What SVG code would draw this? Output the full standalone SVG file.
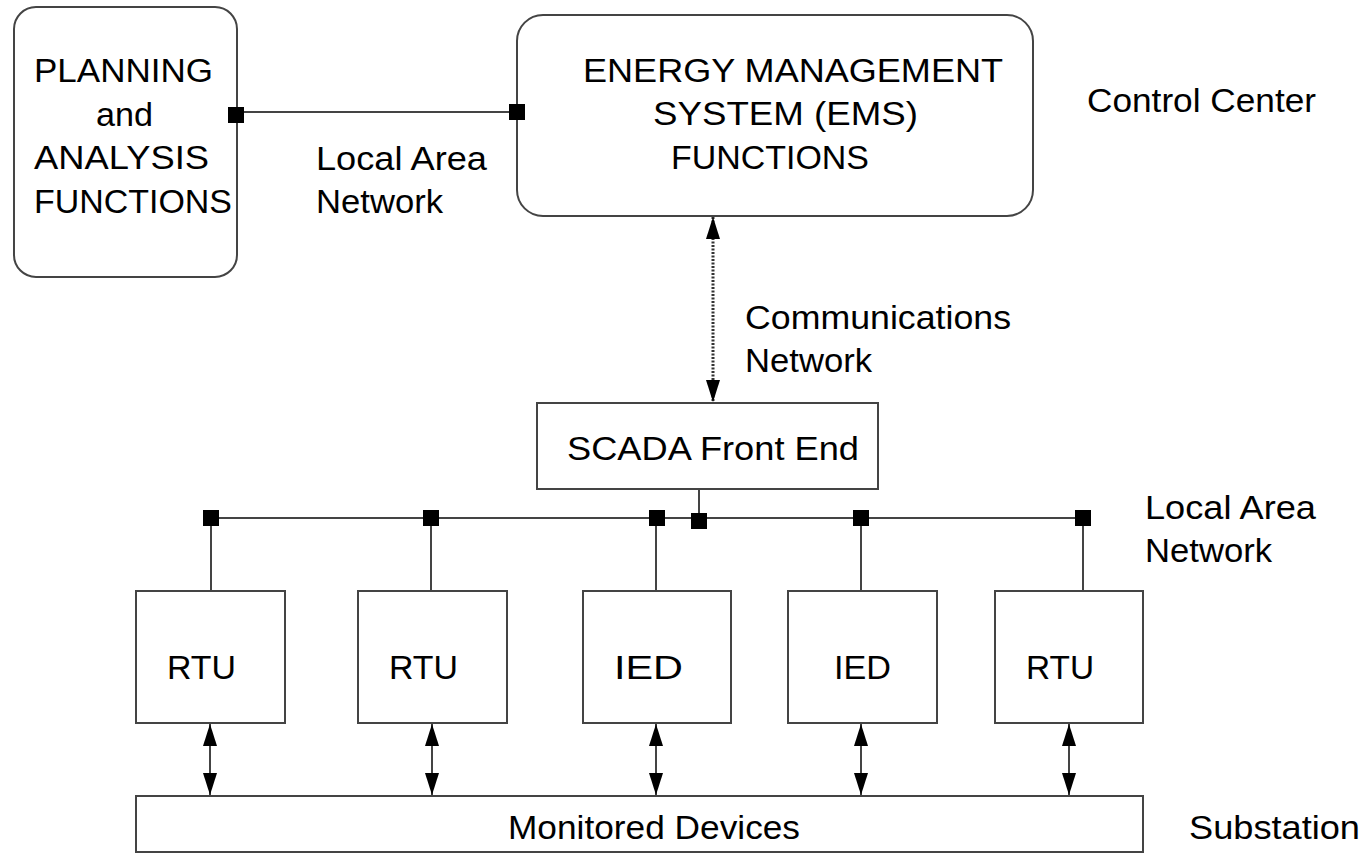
<svg xmlns="http://www.w3.org/2000/svg" width="1364" height="853" viewBox="0 0 1364 853">
<defs>
<marker id="ah" viewBox="0 0 22 14" refX="22" refY="7" markerWidth="22" markerHeight="14" markerUnits="userSpaceOnUse" orient="auto-start-reverse">
<path d="M0,0 L22,7 L0,14 z" fill="#000"/>
</marker>
<style>
.box{fill:#fff;stroke:#444;stroke-width:2}
.ln{fill:none;stroke:#444;stroke-width:2}
.sq{fill:#000}
text{font-family:"Liberation Sans",Arial,sans-serif;font-size:33px;fill:#000}
</style>
</defs>
<rect width="1364" height="853" fill="#fff"/>
<g id="planning">
<rect class="box" x="14" y="7" width="223" height="270" rx="22"/>
<text x="34" y="82" textLength="179" lengthAdjust="spacingAndGlyphs">PLANNING</text>
<text x="96" y="126" textLength="57" lengthAdjust="spacingAndGlyphs">and</text>
<text x="34" y="169" textLength="175" lengthAdjust="spacingAndGlyphs">ANALYSIS</text>
<text x="34" y="213" textLength="198" lengthAdjust="spacingAndGlyphs">FUNCTIONS</text>
</g>
<g id="lan-label-top">
<text x="316" y="170" textLength="171" lengthAdjust="spacingAndGlyphs">Local Area</text>
<text x="316" y="213" textLength="127" lengthAdjust="spacingAndGlyphs">Network</text>
</g>
<g id="ems">
<rect class="box" x="517" y="15" width="516" height="201" rx="26"/>
<text x="583" y="82" textLength="420" lengthAdjust="spacingAndGlyphs">ENERGY MANAGEMENT</text>
<text x="653" y="125" textLength="265" lengthAdjust="spacingAndGlyphs">SYSTEM (EMS)</text>
<text x="671" y="169" textLength="198" lengthAdjust="spacingAndGlyphs">FUNCTIONS</text>
</g>
<g id="control-center">
<text x="1087" y="112" textLength="229" lengthAdjust="spacingAndGlyphs">Control Center</text>
</g>
<g id="comm-label">
<text x="745" y="329" textLength="266" lengthAdjust="spacingAndGlyphs">Communications</text>
<text x="745" y="372" textLength="127" lengthAdjust="spacingAndGlyphs">Network</text>
</g>
<g id="scada">
<rect class="box" x="537" y="403" width="341" height="86"/>
<text x="567" y="460" textLength="292" lengthAdjust="spacingAndGlyphs">SCADA Front End</text>
</g>
<g id="lan-label-bottom">
<text x="1145" y="519" textLength="171" lengthAdjust="spacingAndGlyphs">Local Area</text>
<text x="1145" y="562" textLength="127" lengthAdjust="spacingAndGlyphs">Network</text>
</g>
<g id="rtu1">
<rect class="box" x="136" y="591" width="149" height="132"/>
<text x="167" y="679" textLength="69" lengthAdjust="spacingAndGlyphs">RTU</text>
</g>
<g id="rtu2">
<rect class="box" x="358" y="591" width="149" height="132"/>
<text x="389" y="679" textLength="69" lengthAdjust="spacingAndGlyphs">RTU</text>
</g>
<g id="ied1">
<rect class="box" x="583" y="591" width="148" height="132"/>
<text x="614" y="679" textLength="69" lengthAdjust="spacingAndGlyphs">IED</text>
</g>
<g id="ied2">
<rect class="box" x="788" y="591" width="149" height="132"/>
<text x="834" y="679" textLength="57" lengthAdjust="spacingAndGlyphs">IED</text>
</g>
<g id="rtu3">
<rect class="box" x="995" y="591" width="148" height="132"/>
<text x="1026" y="679" textLength="68" lengthAdjust="spacingAndGlyphs">RTU</text>
</g>
<g id="monitored">
<rect class="box" x="136" y="796" width="1007" height="56"/>
<text x="508" y="839" textLength="292" lengthAdjust="spacingAndGlyphs">Monitored Devices</text>
</g>
<g id="substation">
<text x="1189" y="839" textLength="171" lengthAdjust="spacingAndGlyphs">Substation</text>
</g>
<g id="connectors">
<line class="ln" x1="236" y1="112" x2="517" y2="112"/>
<line x1="713" y1="217" x2="713" y2="402" stroke="#333" stroke-width="3" stroke-dasharray="2,1.5" marker-start="url(#ah)" marker-end="url(#ah)"/>
<line class="ln" x1="211" y1="518" x2="1083" y2="518"/>
<line class="ln" x1="699" y1="489" x2="699" y2="521"/>
<line class="ln" x1="211" y1="518" x2="211" y2="591"/>
<line class="ln" x1="431" y1="518" x2="431" y2="591"/>
<line class="ln" x1="656" y1="518" x2="656" y2="591"/>
<line class="ln" x1="861" y1="518" x2="861" y2="591"/>
<line class="ln" x1="1083" y1="518" x2="1083" y2="591"/>
<line class="ln" x1="210" y1="724" x2="210" y2="795" marker-start="url(#ah)" marker-end="url(#ah)"/>
<line class="ln" x1="432" y1="724" x2="432" y2="795" marker-start="url(#ah)" marker-end="url(#ah)"/>
<line class="ln" x1="656" y1="724" x2="656" y2="795" marker-start="url(#ah)" marker-end="url(#ah)"/>
<line class="ln" x1="861" y1="724" x2="861" y2="795" marker-start="url(#ah)" marker-end="url(#ah)"/>
<line class="ln" x1="1069" y1="724" x2="1069" y2="795" marker-start="url(#ah)" marker-end="url(#ah)"/>
<rect class="sq" x="228" y="107" width="16" height="16"/>
<rect class="sq" x="509" y="104" width="16" height="16"/>
<rect class="sq" x="203" y="510" width="16" height="16"/>
<rect class="sq" x="423" y="510" width="16" height="16"/>
<rect class="sq" x="649" y="510" width="16" height="16"/>
<rect class="sq" x="691" y="513" width="16" height="16"/>
<rect class="sq" x="853" y="510" width="16" height="16"/>
<rect class="sq" x="1075" y="510" width="16" height="16"/>
</g>
</svg>
